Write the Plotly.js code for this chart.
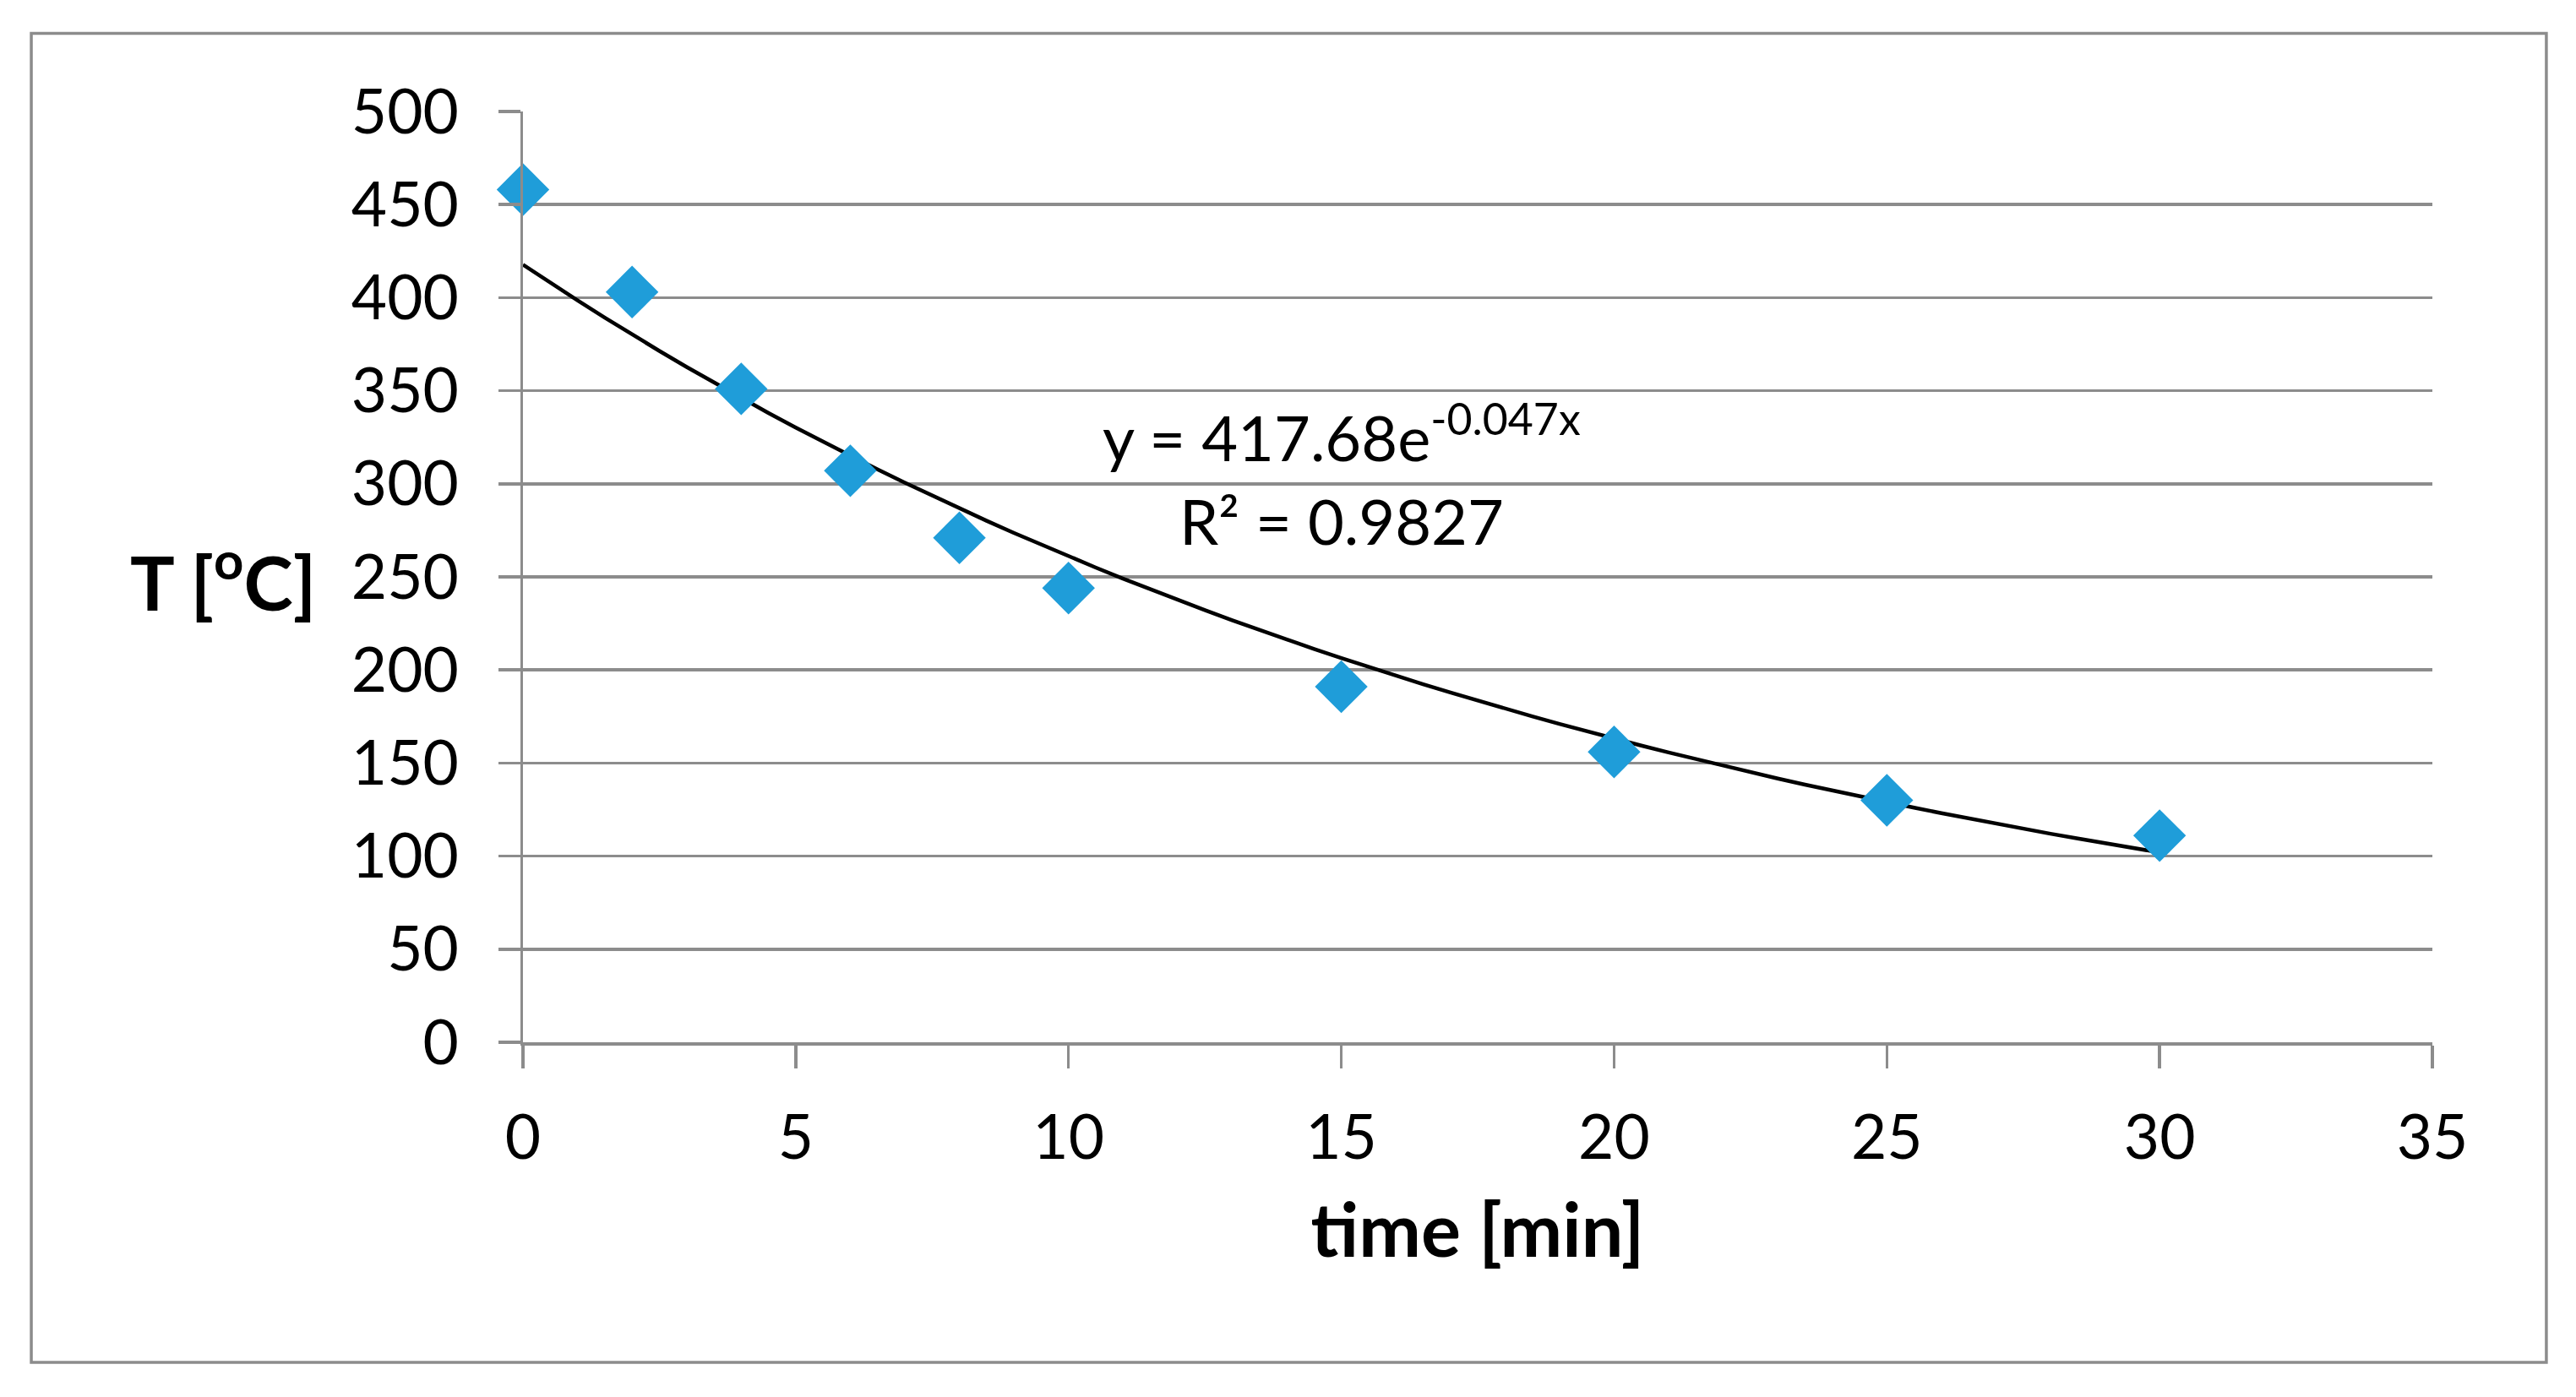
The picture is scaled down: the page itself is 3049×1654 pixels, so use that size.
<!DOCTYPE html>
<html>
<head>
<meta charset="utf-8">
<script src="https://cdn.plot.ly/plotly-3.0.1.min.js"></script>
<style>
  body { margin: 0; background: #ffffff; }
  #plot { width: 3049px; height: 1654px; }
</style>
</head>
<body>
<div id="plot"></div>
<script>
var timeMin = [0, 2, 4, 6, 8, 10, 15, 20, 25, 30];
var tempC = [458, 403, 351, 307, 271, 244, 191, 156, 130, 111];

//Exponential trendline as printed on the chart
var trendA = 417.68;
var trendB = -0.047;
var trendR2 = "0.9827";

//Trendline sampled over the measured time span
var trendX = [];
var trendY = [];
for (var t = 0; t <= 30; t += 0.5) {
  trendX.push(t);
  trendY.push(trendA * Math.exp(trendB * t));
}

var gridGray = "#8c8c8c";
var font = "Lato, 'Open Sans', sans-serif";

var points = {
  x: timeMin,
  y: tempC,
  type: "scatter",
  mode: "markers",
  marker: { symbol: "diamond", size: 48, color: "#1f9dd9" },
  cliponaxis: false,
  hoverinfo: "x+y"
};

var trend = {
  x: trendX,
  y: trendY,
  type: "scatter",
  mode: "lines",
  line: { color: "#000000", width: 4.5 },
  hoverinfo: "skip"
};

var layout = {
  width: 3049,
  height: 1654,
  margin: { l: 619, r: 170, t: 132, b: 420 },
  paper_bgcolor: "#ffffff",
  plot_bgcolor: "#ffffff",
  showlegend: false,
  font: { family: font, size: 72, color: "#000000" },
  xaxis: {
    range: [0, 35],
    tick0: 0,
    dtick: 5,
    showgrid: false,
    zeroline: false,
    showline: true,
    linecolor: gridGray,
    linewidth: 3.5,
    ticks: "outside",
    ticklen: 27,
    tickwidth: 3.5,
    tickcolor: gridGray,
    ticklabelstandoff: 20,
    tickfont: { size: 73 },
    title: {
      text: "<b>time [min]</b>",
      font: { size: 88 },
      standoff: 40
    }
  },
  yaxis: {
    range: [0, 500],
    tick0: 0,
    dtick: 50,
    showgrid: true,
    gridcolor: gridGray,
    gridwidth: 3.5,
    zeroline: false,
    showline: true,
    linecolor: gridGray,
    linewidth: 3.5,
    ticks: "outside",
    ticklen: 26,
    tickwidth: 3.5,
    tickcolor: gridGray,
    ticklabelstandoff: 32,
    tickfont: { size: 73 }
  },
  annotations: [
    {
      //Y axis label is horizontal in the original, so draw it as an annotation
      text: "<b>T [<sup>o</sup>C]</b>",
      xref: "paper", yref: "paper",
      x: -0.157, y: 0.5,
      xanchor: "center", yanchor: "middle",
      showarrow: false,
      font: { size: 88 }
    },
    {
      text: "y = " + trendA + "e<sup>" + trendB + "x</sup>",
      xref: "x", yref: "y",
      x: 15, y: 327,
      xanchor: "center", yanchor: "middle",
      showarrow: false,
      font: { size: 74 }
    },
    {
      text: "R\u00b2 = " + trendR2,
      xref: "x", yref: "y",
      x: 15, y: 280,
      xanchor: "center", yanchor: "middle",
      showarrow: false,
      font: { size: 74 }
    }
  ],
  shapes: [
    {
      //Outer chart frame
      type: "rect",
      xref: "paper", yref: "paper",
      x0: -0.2575, x1: 1.0597,
      y0: -0.344, y1: 1.084,
      line: { color: gridGray, width: 3.5 },
      fillcolor: "rgba(0,0,0,0)",
      layer: "below"
    }
  ]
};

Plotly.newPlot("plot", [trend, points], layout, { displayModeBar: false, staticPlot: true });
</script>
</body>
</html>
